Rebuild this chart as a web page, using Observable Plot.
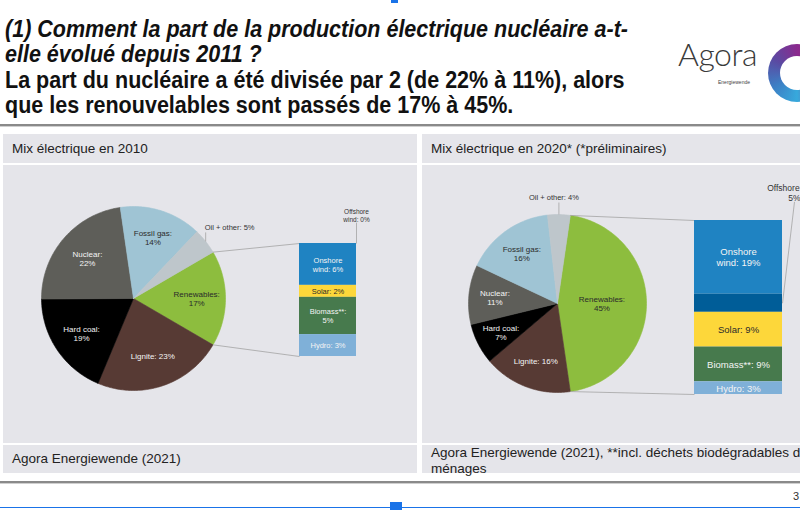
<!DOCTYPE html>
<html><head><meta charset="utf-8">
<script src="https://cdn.jsdelivr.net/npm/d3@7"></script>
<script src="https://cdn.jsdelivr.net/npm/@observablehq/plot@0.6"></script>
<style>
html,body{margin:0;padding:0;background:#fff;}
body{width:800px;height:510px;overflow:hidden;position:relative;font-family:"Liberation Sans",Arial,sans-serif;color:#222;}
.abs{position:absolute;}
#title{left:5px;top:17px;font-weight:bold;font-size:23px;line-height:25.3px;color:#111;white-space:nowrap;}
#title div{transform-origin:0 50%;}
.band{background:#e5e5ea;}
.hdr{font-size:13.5px;line-height:29px;padding-left:9px;box-sizing:border-box;white-space:nowrap;overflow:hidden;}
.ftr{font-size:13.5px;box-sizing:border-box;padding-left:9px;white-space:nowrap;}
</style></head><body>
<div class="abs" style="left:391px;top:0;width:7px;height:3px;background:#1a73e8"></div>
<div id="title" class="abs">
  <div style="font-style:italic">(1) Comment la part de la production électrique nucléaire a-t-</div>
  <div style="font-style:italic">elle évolué depuis 2011 ?</div>
  <div>La part du nucléaire a été divisée par 2 (de 22% à 11%), alors</div>
  <div>que les renouvelables sont passés de 17% à 45%.</div>
</div>
<div class="abs" style="left:678px;top:34px;font-family:Lato,'Open Sans',sans-serif;font-weight:300;font-size:32px;color:#3a3a3a;letter-spacing:-0.5px">Agora</div>
<div class="abs" style="left:718px;top:79px;font-size:5px;color:#444">Energiewende</div>
<div class="abs" style="left:768px;top:44px;width:58px;height:58px;border-radius:50%;background:conic-gradient(from 0deg,#8a2a8e 0deg,#a0287f 90deg,#37a9dc 180deg,#3d7ec4 240deg,#5a4aa2 300deg,#8a2a8e 360deg)"></div>
<div class="abs" style="left:780px;top:56px;width:34px;height:34px;border-radius:50%;background:#fff"></div>
<div class="abs" style="left:0;top:124px;width:800px;height:2px;background:#8a8a8a"></div>
<div class="abs" style="left:0;top:126px;width:800px;height:1px;background:#cfcfcf"></div>

<div class="abs band hdr" style="left:3px;top:134px;width:414px;height:29px">Mix électrique en 2010</div>
<div class="abs band hdr" style="left:422px;top:134px;width:414px;height:29px">Mix électrique en 2020* (*préliminaires)</div>
<div id="p2010" class="abs band" style="left:3px;top:165px;width:414px;height:278px"></div>
<div id="p2020" class="abs band" style="left:422px;top:165px;width:414px;height:278px"></div>
<div class="abs band ftr" style="left:3px;top:445px;width:414px;height:28px;padding-top:6px">Agora Energiewende (2021)</div>
<div class="abs band ftr" style="left:422px;top:445px;width:414px;height:28px;line-height:15.5px;padding-top:0">Agora Energiewende (2021), **incl. déchets biodégradables des<br>ménages</div>

<div class="abs" style="left:0;top:481px;width:800px;height:2px;background:#8a8a8a"></div>
<div class="abs" style="left:0;top:483px;width:800px;height:1px;background:#cfcfcf"></div>
<div class="abs" style="left:793px;top:490px;font-size:11px;color:#333">3</div>
<div class="abs" style="left:0;top:507px;width:800px;height:1px;background:#1a73e8"></div>
<div class="abs" style="left:390px;top:502px;width:12px;height:8px;background:#1a73e8"></div>

<script>
// ---- data ----
const pieCategories = ["Renewables", "Lignite", "Hard coal", "Nuclear", "Fossil gas", "Oil + other"];
const share2010 = [16.8, 22.9, 18.6, 22.8, 14.4, 4.5];
const share2020 = [45.4, 16.1, 7.4, 10.8, 16.2, 4.1];
const pieLabels2010 = ["Renewables:\n17%", "Lignite: 23%", "Hard coal:\n19%", "Nuclear:\n22%", "Fossil gas:\n14%", "Oil + other: 5%"];
const pieLabels2020 = ["Renewables:\n45%", "Lignite: 16%", "Hard coal:\n7%", "Nuclear:\n11%", "Fossil gas:\n16%", "Oil + other: 4%"];

const barCategories = ["Onshore wind", "Offshore wind", "Solar", "Biomass**", "Hydro"];
const renew2010 = [6.3, 0.0, 1.8, 5.6, 3.3];
const renew2020 = [19.1, 4.7, 9.0, 9.0, 3.3];
const barLabels2010 = ["Onshore\nwind: 6%", "Offshore\nwind: 0%", "Solar: 2%", "Biomass**:\n5%", "Hydro: 3%"];
const barLabels2020 = ["Onshore\nwind: 19%", "Offshore wind:\n5%", "Solar: 9%", "Biomass**: 9%", "Hydro: 3%"];

// ---- styles ----
const pieColors = ["#8dbd3e", "#573a34", "#000000", "#5e5e59", "#9fc4d4", "#bec6cb"];
const barColors = ["#1f83c2", "#005d98", "#fdd73a", "#477a4d", "#7fb0d8"];
const darkText = new Set(["Renewables", "Fossil gas", "Oil + other", "Solar", "Offshore wind"]);
const outsidePie = "Oil + other", outsideBar = "Offshore wind";

// ---- layout ----
const layout2010 = {W: 414, H: 278, cx: 130, cy: 133, r: 92,
  bar: {x1: 296, x2: 353, top: 78, bottom: 191},
  pieFont: 8, barFont: 7.5, oilFont: 7.5, offFont: 6.5,
  oilLeader: 9, oilDx: -1, oilAnchor: "start", offDx: 0, offLeaderToTop: true};
const layout2020 = {W: 414, H: 278, cx: 135, cy: 138, r: 89,
  bar: {x1: 272, x2: 360, top: 55, bottom: 229},
  pieFont: 8, barFont: 9.5, oilFont: 7.5, offFont: 8.5,
  oilLeader: 12, oilDx: -5, oilAnchor: "middle", offDx: 12, offLeaderToTop: false};

function chart(values, pieLabels, renew, barLabels, L) {
  const pt = (a, rad) => ({x: L.cx + rad * Math.sin(a), y: L.cy - rad * Math.cos(a)});
  const total = d3.sum(values);
  const span0 = values[0] / total * 2 * Math.PI;
  let acc = Math.PI / 2 - span0 / 2;
  const slices = values.map((v, i) => {
    const a0 = acc, a1 = acc + v / total * 2 * Math.PI; acc = a1;
    return {category: pieCategories[i], label: pieLabels[i], a0, a1};
  });
  const slicePts = [];
  for (const s of slices) {
    const n = Math.max(2, Math.ceil((s.a1 - s.a0) / (Math.PI / 180)));
    slicePts.push({category: s.category, ...pt(0, 0)});
    for (let k = 0; k <= n; k++) slicePts.push({category: s.category, ...pt(s.a0 + (s.a1 - s.a0) * k / n, L.r)});
    slicePts.push({category: s.category, ...pt(0, 0)});
  }
  const inside = slices.filter(s => s.category !== outsidePie).map(s => {
    const al = s.a1 - s.a0, c = 4 * Math.sin(al / 2) / (3 * al);
    return {...s, ...pt((s.a0 + s.a1) / 2, L.r * c * 1.08)};
  });
  const oil = slices.find(s => s.category === outsidePie);
  const oilP = pt((oil.a0 + oil.a1) / 2, L.r);
  const oilLeader = [{x1: oilP.x, y1: oilP.y, x2: oilP.x, y2: oilP.y - L.oilLeader}];
  const oilText = [{x: oilP.x + L.oilDx, y: oilP.y - L.oilLeader - 5, label: oil.label}];

  const ren = slices[0];
  const pA = pt(ren.a0, L.r), pB = pt(ren.a1, L.r);
  const connectors = [
    {x1: pA.x, y1: pA.y, x2: L.bar.x1, y2: L.bar.top},
    {x1: pB.x, y1: pB.y, x2: L.bar.x1, y2: L.bar.bottom}
  ];

  const k = (L.bar.bottom - L.bar.top) / d3.sum(renew);
  const cum = d3.cumsum(renew);
  const bars = renew.map((v, i) => ({
    category: barCategories[i], label: barLabels[i],
    x1: L.bar.x1, x2: L.bar.x2,
    y1: L.bar.top + (cum[i] - v) * k, y2: L.bar.top + cum[i] * k
  }));
  const barText = bars.filter(b => b.category !== outsideBar).map(b => ({...b, x: (b.x1 + b.x2) / 2, y: (b.y1 + b.y2) / 2}));
  const off = bars.find(b => b.category === outsideBar);
  const offX = L.bar.x2 + L.offDx, offY = L.bar.top - 28;
  const offText = [{x: offX, y: offY, label: off.label}];
  const offLeader = [{x1: offX, y1: offY + L.offFont * 1.1, x2: L.bar.x2, y2: L.offLeaderToTop ? L.bar.top : (off.y1 + off.y2) / 2}];

  return Plot.plot({
    width: L.W, height: L.H, margin: 0,
    x: {domain: [0, L.W], axis: null},
    y: {domain: [0, L.H], range: [0, L.H], axis: null},
    color: {domain: [...pieCategories, ...barCategories], range: [...pieColors, ...barColors]},
    style: {background: "transparent", fontFamily: "'Liberation Sans', Arial, sans-serif", overflow: "visible"},
    marks: [
      Plot.line(slicePts, {x: "x", y: "y", z: "category", fill: "category", stroke: "category", strokeWidth: 0.6, curve: "linear"}),
      Plot.link(connectors, {x1: "x1", y1: "y1", x2: "x2", y2: "y2", stroke: "#a3a3a3", strokeWidth: 0.8}),
      Plot.rect(bars, {x1: "x1", x2: "x2", y1: "y1", y2: "y2", fill: "category"}),
      Plot.text(inside.filter(d => darkText.has(d.category)), {x: "x", y: "y", text: "label", fill: "#2b2b2b", fontSize: L.pieFont, lineHeight: 1.15}),
      Plot.text(inside.filter(d => !darkText.has(d.category)), {x: "x", y: "y", text: "label", fill: "#f4f4f4", fontSize: L.pieFont, lineHeight: 1.15}),
      Plot.text(barText.filter(d => darkText.has(d.category)), {x: "x", y: "y", text: "label", fill: "#2b2b2b", fontSize: L.barFont, lineHeight: 1.15}),
      Plot.text(barText.filter(d => !darkText.has(d.category)), {x: "x", y: "y", text: "label", fill: "#f4f4f4", fontSize: L.barFont, lineHeight: 1.15}),
      Plot.link(oilLeader, {x1: "x1", y1: "y1", x2: "x2", y2: "y2", stroke: "#a3a3a3", strokeWidth: 0.8}),
      Plot.text(oilText, {x: "x", y: "y", text: "label", fill: "#333", fontSize: L.oilFont, textAnchor: L.oilAnchor}),
      Plot.link(offLeader, {x1: "x1", y1: "y1", x2: "x2", y2: "y2", stroke: "#a3a3a3", strokeWidth: 0.8}),
      Plot.text(offText, {x: "x", y: "y", text: "label", fill: "#333", fontSize: L.offFont, lineHeight: 1.15})
    ]
  });
}

document.getElementById("p2010").append(chart(share2010, pieLabels2010, renew2010, barLabels2010, layout2010));
document.getElementById("p2020").append(chart(share2020, pieLabels2020, renew2020, barLabels2020, layout2020));

// condense title to the reference's width
const tl = document.querySelectorAll("#title div");
const w0 = tl[0].getBoundingClientRect().width;
const f = 623 / w0;
tl.forEach(d => { d.style.transform = `scaleX(${f})`; });
</script>
</body></html>
